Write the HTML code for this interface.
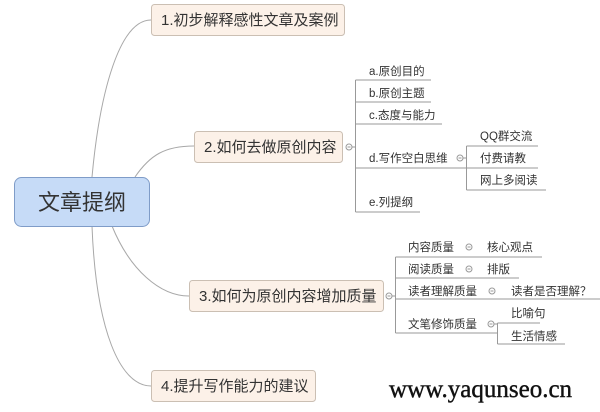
<!DOCTYPE html>
<html><head><meta charset="utf-8"><style>
html,body{margin:0;padding:0;background:#fff;}
svg text{font-family:"Liberation Sans","Noto Sans CJK SC",sans-serif;fill:#333;}
</style></head><body>
<svg width="600" height="407" viewBox="0 0 600 407" xmlns="http://www.w3.org/2000/svg">
<g fill="none" stroke="#a8a8a8" stroke-width="1">
<path d="M92 177 C100 90,120 20,151 20"/>
<path d="M135 177 C150 155,165 146,194 146"/>
<path d="M112 226 C130 270,160 296,189 296"/>
<path d="M92 226 C96 330,120 386,151 386"/>
</g>
<rect x="14.5" y="177.5" width="135" height="49" rx="7" fill="#c6dbf7" stroke="#7f9cc8"/>
<text x="82" y="210" font-size="22" text-anchor="middle">文章提纲</text>
<g fill="#fcf1e8" stroke="#cbbfb3">
<rect x="151.5" y="4.5" width="193" height="31" rx="3"/>
<rect x="194.5" y="131.5" width="148" height="31" rx="3"/>
<rect x="189.5" y="280.5" width="194" height="31" rx="3"/>
<rect x="151.5" y="370.5" width="164" height="31" rx="3"/>
</g>
<g font-size="15">
<text x="161" y="25">1.初步解释感性文章及案例</text>
<text x="204" y="152">2.如何去做原创内容</text>
<text x="199" y="301">3.如何为原创内容增加质量</text>
<text x="161" y="391">4.提升写作能力的建议</text>
</g>
<g fill="#fff" stroke="#999">
<circle cx="349" cy="147" r="3"/><circle cx="460" cy="158" r="3"/>
<circle cx="389" cy="296" r="3"/><circle cx="469" cy="247" r="3"/>
<circle cx="469" cy="269" r="3"/><circle cx="492" cy="291" r="3"/><circle cx="491" cy="324" r="3"/>
</g>
<g stroke="#999" stroke-width="1">
<path d="M347.5 147H350.5 M458.5 158H461.5 M387.5 296H390.5 M467.5 247H470.5 M467.5 269H470.5 M490.5 291H493.5 M489.5 324H492.5"/>
</g>
<g fill="none" stroke="#999" stroke-width="1">
<path d="M352 147 H355.5 M355.5 80 V212"/>
<path d="M355.5 80 H431 M355.5 102 H431 M355.5 124 H442 M355.5 168 H466 M355.5 212 H420"/>
<path d="M463 158 H466.5 M466.5 146 V190 M466.5 146 H538 M466.5 168 H538 M466.5 190 H546"/>
<path d="M392 296 H395.5 M395.5 257 V333"/>
<path d="M395.5 257 H542 M395.5 278 H519 M395.5 299 H600 M395.5 333 H497"/>
<path d="M494 324 H497.5 M497.5 323 V344 M497.5 323 H540 M497.5 344 H565"/>
</g>
<g font-size="11.5">
<text x="369" y="75">a.原创目的</text>
<text x="369" y="97">b.原创主题</text>
<text x="369" y="119">c.态度与能力</text>
<text x="369" y="162">d.写作空白思维</text>
<text x="369" y="206">e.列提纲</text>
<text x="480" y="140">QQ群交流</text>
<text x="480" y="162">付费请教</text>
<text x="480" y="184">网上多阅读</text>
<text x="408" y="251">内容质量</text>
<text x="487" y="251">核心观点</text>
<text x="408" y="273">阅读质量</text>
<text x="487" y="273">排版</text>
<text x="408" y="295">读者理解质量</text>
<text x="511" y="295">读者是否理解？</text>
<text x="408" y="328">文笔修饰质量</text>
<text x="511" y="317">比喻句</text>
<text x="511" y="340">生活情感</text>
</g>
<text x="389" y="397" font-size="25" stroke="#111" stroke-width="0.4" style="font-family:'Liberation Serif',serif;fill:#111">www.yaqunseo.cn</text>
</svg>
</body></html>
